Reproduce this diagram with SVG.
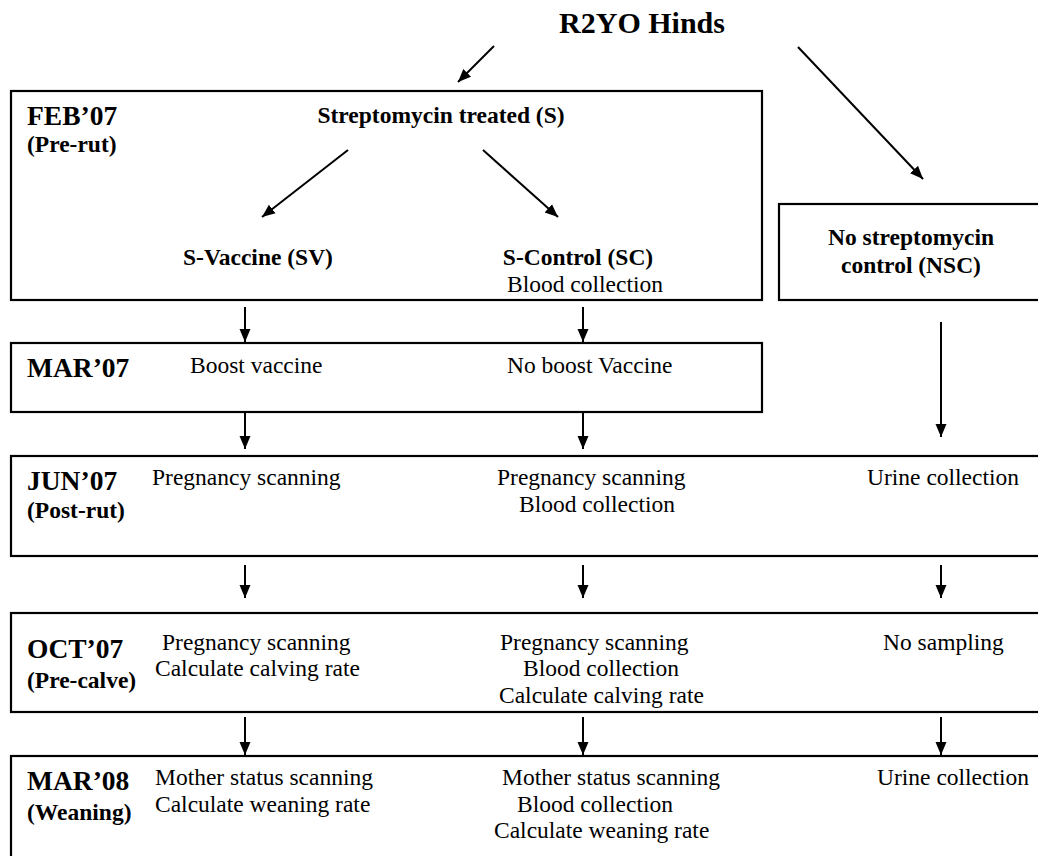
<svg xmlns="http://www.w3.org/2000/svg" width="1038" height="856" viewBox="0 0 1038 856">
<style>
.box{fill:none;stroke:#000;stroke-width:2.2}
.b{font-family:"Liberation Serif","Times New Roman",serif;font-weight:bold;fill:#000}
.r{font-family:"Liberation Serif","Times New Roman",serif;fill:#000;font-size:23.5px}
.lbl{font-size:27.5px}
.sub{font-size:23.5px}
.grp{font-size:23.5px}
.c{text-anchor:middle}
.ln{stroke:#000;stroke-width:2;fill:none}
</style>
<defs>
<marker id="ah" markerUnits="userSpaceOnUse" markerWidth="14" markerHeight="14" viewBox="0 0 14 14" refX="13" refY="7" orient="auto">
<path d="M0,1.5 L13,7 L0,12.5 Z" fill="#000"/>
</marker>
</defs>
<rect width="1038" height="856" fill="#fff"/>

<g id="title"><text class="b c" x="642" y="33" font-size="30">R2YO Hinds</text></g>

<g id="feb">
<rect class="box" x="11" y="91" width="751" height="209"/>
<text class="b lbl" x="27" y="125">FEB’07</text>
<text class="b sub" x="27" y="152">(Pre-rut)</text>
<text class="b grp c" x="441" y="123">Streptomycin treated (S)</text>
<text class="b grp c" x="258" y="265">S-Vaccine (SV)</text>
<text class="b grp c" x="578" y="265">S-Control (SC)</text>
<text class="r c" x="585" y="292">Blood collection</text>
</g>

<g id="nsc">
<rect class="box" x="779" y="204" width="270" height="96"/>
<text class="b grp c" x="911" y="245">No streptomycin</text>
<text class="b grp c" x="911" y="273">control (NSC)</text>
</g>

<g id="mar07">
<rect class="box" x="11" y="343" width="751" height="69"/>
<text class="b lbl" x="27" y="377">MAR’07</text>
<text class="r" x="190" y="373">Boost vaccine</text>
<text class="r" x="507" y="373">No boost Vaccine</text>
</g>

<g id="jun07">
<rect class="box" x="11" y="456" width="1040" height="100"/>
<text class="b lbl" x="27" y="490">JUN’07</text>
<text class="b sub" x="27" y="518">(Post-rut)</text>
<text class="r" x="152" y="485">Pregnancy scanning</text>
<text class="r" x="497" y="485">Pregnancy scanning</text>
<text class="r" x="519" y="512">Blood collection</text>
<text class="r" x="867" y="485">Urine collection</text>
</g>

<g id="oct07">
<rect class="box" x="11" y="613" width="1040" height="99"/>
<text class="b lbl" x="27" y="658">OCT’07</text>
<text class="b sub" x="27" y="688">(Pre-calve)</text>
<text class="r" x="162" y="650">Pregnancy scanning</text>
<text class="r" x="155" y="676">Calculate calving rate</text>
<text class="r" x="500" y="650">Pregnancy scanning</text>
<text class="r" x="523" y="676">Blood collection</text>
<text class="r" x="499" y="703">Calculate calving rate</text>
<text class="r" x="883" y="650">No sampling</text>
</g>

<g id="mar08">
<rect class="box" x="11" y="756" width="1040" height="110"/>
<text class="b lbl" x="27" y="790">MAR’08</text>
<text class="b sub" x="27" y="820">(Weaning)</text>
<text class="r" x="155" y="785">Mother status scanning</text>
<text class="r" x="155" y="812">Calculate weaning rate</text>
<text class="r" x="502" y="785">Mother status scanning</text>
<text class="r" x="517" y="812">Blood collection</text>
<text class="r" x="494" y="838">Calculate weaning rate</text>
<text class="r" x="877" y="785">Urine collection</text>
</g>

<g id="connectors" class="ln" marker-end="url(#ah)">
<line x1="494" y1="46" x2="458" y2="82"/>
<line x1="798" y1="47" x2="923" y2="179"/>
<line x1="348" y1="150" x2="262" y2="217"/>
<line x1="483" y1="150" x2="558" y2="217"/>
<line x1="245" y1="307" x2="245" y2="342"/>
<line x1="583" y1="307" x2="583" y2="342"/>
<line x1="245" y1="413" x2="245" y2="449"/>
<line x1="583" y1="413" x2="583" y2="449"/>
<line x1="941" y1="322" x2="941" y2="437"/>
<line x1="245" y1="565" x2="245" y2="598"/>
<line x1="583" y1="565" x2="583" y2="598"/>
<line x1="941" y1="565" x2="941" y2="598"/>
<line x1="245" y1="717" x2="245" y2="755"/>
<line x1="583" y1="717" x2="583" y2="755"/>
<line x1="941" y1="717" x2="941" y2="755"/>
</g>
</svg>
